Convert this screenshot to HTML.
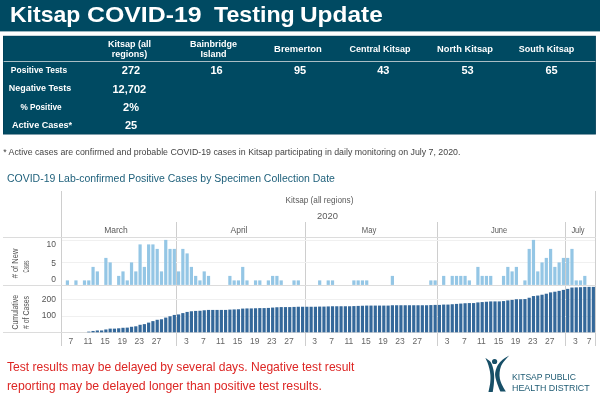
<!DOCTYPE html>
<html><head><meta charset="utf-8"><title>Kitsap COVID-19 Testing Update</title>
<style>
html,body{margin:0;padding:0;background:#fff;}
body{width:600px;height:400px;position:relative;overflow:hidden;font-family:"Liberation Sans",sans-serif;}
.abs{position:absolute;white-space:nowrap;}
.tw{position:absolute;top:0;transform-origin:0 50%;}
#title{left:10.7px;top:1.3px;color:#fff;font-weight:bold;font-size:21.5px;line-height:28px;transform-origin:0 50%;transform:scaleX(1.12);}
.th{color:#fff;font-weight:bold;font-size:9px;line-height:10.3px;text-align:center;transform:translateX(-50%);}
.rl{color:#fff;font-weight:bold;font-size:9px;line-height:12px;text-align:center;transform:translate(-50%,-50%) scaleX(0.94);}
.v{color:#fff;font-weight:bold;font-size:11px;line-height:12px;text-align:center;transform:translate(-50%,-50%);}
#fn{left:3.2px;top:147.2px;font-size:8.8px;line-height:10px;color:#444;transform-origin:0 50%;}
#ct{left:7px;top:171.5px;font-size:10px;line-height:14px;color:#1d5f7a;transform-origin:0 50%;transform:scaleX(1.048);}
.red{left:6.7px;color:#dd2624;font-size:13px;line-height:16px;transform-origin:0 50%;}
.lg{left:511.5px;color:#1d5a72;font-size:9px;line-height:10px;transform-origin:0 50%;}
svg{position:absolute;left:0;top:0;}
svg text{font-family:"Liberation Sans",sans-serif;}
.tk text{font-size:8.5px;fill:#666;}
.mo text{font-size:8.5px;fill:#5a5a5a;}
.ax text{font-size:8.5px;fill:#555;}
</style></head><body>
<svg width="600" height="400" viewBox="0 0 600 400">
<rect x="0" y="0" width="600" height="31.4" fill="#004a62"/>
<rect x="3" y="35.8" width="592.9" height="98.7" fill="#003f58"/>
<rect x="3.6" y="36.4" width="591.6" height="97.4" fill="#004a62"/>
<rect x="3.6" y="61.05" width="591.8" height="0.85" fill="#c8d2d6"/>
</svg>
<div id="title" class="abs" style="transform:none;left:0;width:600px"><span class="tw" style="left:10.4px;transform:scaleX(1.07)">Kitsap</span> <span class="tw" style="left:87.2px;transform:scaleX(1.156)">COVID-19</span> <span class="tw" style="left:213.6px;transform:scaleX(1.079)">Testing</span> <span class="tw" style="left:299.9px;transform:scaleX(1.135)">Update</span></div>

<div class="abs th" style="left:129.5px;top:39px">Kitsap (all<br>regions)</div>
<div class="abs th" style="left:213.5px;top:39px">Bainbridge<br>Island</div>
<div class="abs th" style="left:298px;top:44px;transform:translateX(-50%) scaleX(1.05)">Bremerton</div>
<div class="abs th" style="left:380px;top:44px">Central Kitsap</div>
<div class="abs th" style="left:464.5px;top:44px;transform:translateX(-50%) scaleX(1.035)">North Kitsap</div>
<div class="abs th" style="left:546.5px;top:44px">South Kitsap</div>

<div class="abs rl" style="left:39.4px;top:69.8px">Positive Tests</div>
<div class="abs rl" style="left:39.7px;top:88.2px;transform:translate(-50%,-50%) scaleX(0.994)">Negative Tests</div>
<div class="abs rl" style="left:40.9px;top:106.6px;transform:translate(-50%,-50%) scaleX(0.916)">% Positive</div>
<div class="abs rl" style="left:41.6px;top:125px;transform:translate(-50%,-50%) scaleX(1.009)">Active Cases*</div>

<div class="abs v" style="left:131px;top:69.9px">272</div>
<div class="abs v" style="left:129.3px;top:88.9px">12,702</div>
<div class="abs v" style="left:131px;top:106.8px">2%</div>
<div class="abs v" style="left:131px;top:125.3px">25</div>
<div class="abs v" style="left:216.5px;top:69.9px">16</div>
<div class="abs v" style="left:300px;top:69.9px">95</div>
<div class="abs v" style="left:383.3px;top:69.9px">43</div>
<div class="abs v" style="left:467.5px;top:69.9px">53</div>
<div class="abs v" style="left:551.5px;top:69.9px">65</div>

<div id="fn" class="abs">* Active cases are confirmed and probable COVID-19 cases in Kitsap participating in daily monitoring on July 7, 2020.</div>
<div id="ct" class="abs">COVID-19 Lab-confirmed Positive Cases by Specimen Collection Date</div>

<svg width="600" height="400" viewBox="0 0 600 400">
<g stroke="#cecece" stroke-width="1" shape-rendering="crispEdges">
<line x1="61.5" y1="191" x2="61.5" y2="346"/>
<line x1="595.5" y1="191" x2="595.5" y2="346"/>
<line x1="176.5" y1="221.5" x2="176.5" y2="346"/>
<line x1="305.5" y1="221.5" x2="305.5" y2="346"/>
<line x1="437.5" y1="221.5" x2="437.5" y2="346"/>
<line x1="565.5" y1="221.5" x2="565.5" y2="346"/>
</g>
<g stroke="#dcdcdc" stroke-width="1" shape-rendering="crispEdges">
<line x1="3" y1="237.5" x2="596" y2="237.5"/>
<line x1="3" y1="285.5" x2="596" y2="285.5"/>
<line x1="3" y1="332.5" x2="596" y2="332.5"/>
</g>
<g stroke="#f0f0f0" stroke-width="1" shape-rendering="crispEdges">
<line x1="62" y1="240.5" x2="595" y2="240.5"/>
<line x1="62" y1="262.5" x2="595" y2="262.5"/>
<line x1="62" y1="299.5" x2="595" y2="299.5"/>
<line x1="62" y1="316.5" x2="595" y2="316.5"/>
</g>
<g fill="#94c6e5"><rect x="65.80" y="280.40" width="3.2" height="4.50"/><rect x="74.35" y="280.40" width="3.2" height="4.50"/><rect x="82.90" y="280.40" width="3.2" height="4.50"/><rect x="87.18" y="280.40" width="3.2" height="4.50"/><rect x="91.46" y="266.90" width="3.2" height="18.00"/><rect x="95.73" y="271.40" width="3.2" height="13.50"/><rect x="104.28" y="257.90" width="3.2" height="27.00"/><rect x="108.56" y="262.40" width="3.2" height="22.50"/><rect x="117.11" y="275.90" width="3.2" height="9.00"/><rect x="121.39" y="271.40" width="3.2" height="13.50"/><rect x="125.66" y="280.40" width="3.2" height="4.50"/><rect x="129.94" y="262.40" width="3.2" height="22.50"/><rect x="134.22" y="271.40" width="3.2" height="13.50"/><rect x="138.49" y="244.40" width="3.2" height="40.50"/><rect x="142.77" y="266.90" width="3.2" height="18.00"/><rect x="147.04" y="244.40" width="3.2" height="40.50"/><rect x="151.32" y="244.40" width="3.2" height="40.50"/><rect x="155.60" y="248.90" width="3.2" height="36.00"/><rect x="159.87" y="271.40" width="3.2" height="13.50"/><rect x="164.15" y="239.90" width="3.2" height="45.00"/><rect x="168.42" y="248.90" width="3.2" height="36.00"/><rect x="172.70" y="248.90" width="3.2" height="36.00"/><rect x="176.98" y="271.40" width="3.2" height="13.50"/><rect x="181.25" y="248.90" width="3.2" height="36.00"/><rect x="185.53" y="253.40" width="3.2" height="31.50"/><rect x="189.80" y="266.90" width="3.2" height="18.00"/><rect x="194.08" y="275.90" width="3.2" height="9.00"/><rect x="198.36" y="280.40" width="3.2" height="4.50"/><rect x="202.63" y="271.40" width="3.2" height="13.50"/><rect x="206.91" y="275.90" width="3.2" height="9.00"/><rect x="228.29" y="275.90" width="3.2" height="9.00"/><rect x="232.56" y="280.40" width="3.2" height="4.50"/><rect x="236.84" y="280.40" width="3.2" height="4.50"/><rect x="241.12" y="266.90" width="3.2" height="18.00"/><rect x="245.39" y="280.40" width="3.2" height="4.50"/><rect x="253.94" y="280.40" width="3.2" height="4.50"/><rect x="258.22" y="280.40" width="3.2" height="4.50"/><rect x="266.77" y="280.40" width="3.2" height="4.50"/><rect x="271.05" y="275.90" width="3.2" height="9.00"/><rect x="275.32" y="275.90" width="3.2" height="9.00"/><rect x="279.60" y="280.40" width="3.2" height="4.50"/><rect x="292.43" y="280.40" width="3.2" height="4.50"/><rect x="296.70" y="280.40" width="3.2" height="4.50"/><rect x="318.08" y="280.40" width="3.2" height="4.50"/><rect x="326.64" y="280.40" width="3.2" height="4.50"/><rect x="330.91" y="280.40" width="3.2" height="4.50"/><rect x="352.29" y="280.40" width="3.2" height="4.50"/><rect x="356.57" y="280.40" width="3.2" height="4.50"/><rect x="360.84" y="280.40" width="3.2" height="4.50"/><rect x="365.12" y="280.40" width="3.2" height="4.50"/><rect x="390.78" y="275.90" width="3.2" height="9.00"/><rect x="429.26" y="280.40" width="3.2" height="4.50"/><rect x="433.54" y="280.40" width="3.2" height="4.50"/><rect x="442.09" y="275.90" width="3.2" height="9.00"/><rect x="450.64" y="275.90" width="3.2" height="9.00"/><rect x="454.92" y="275.90" width="3.2" height="9.00"/><rect x="459.19" y="275.90" width="3.2" height="9.00"/><rect x="463.47" y="275.90" width="3.2" height="9.00"/><rect x="467.74" y="280.40" width="3.2" height="4.50"/><rect x="476.30" y="266.90" width="3.2" height="18.00"/><rect x="480.57" y="275.90" width="3.2" height="9.00"/><rect x="484.85" y="275.90" width="3.2" height="9.00"/><rect x="489.12" y="275.90" width="3.2" height="9.00"/><rect x="501.95" y="275.90" width="3.2" height="9.00"/><rect x="506.23" y="266.90" width="3.2" height="18.00"/><rect x="510.50" y="271.40" width="3.2" height="13.50"/><rect x="514.78" y="266.90" width="3.2" height="18.00"/><rect x="523.33" y="280.40" width="3.2" height="4.50"/><rect x="527.61" y="248.90" width="3.2" height="36.00"/><rect x="531.88" y="239.90" width="3.2" height="45.00"/><rect x="536.16" y="271.40" width="3.2" height="13.50"/><rect x="540.44" y="262.40" width="3.2" height="22.50"/><rect x="544.71" y="257.90" width="3.2" height="27.00"/><rect x="548.99" y="248.90" width="3.2" height="36.00"/><rect x="553.26" y="266.90" width="3.2" height="18.00"/><rect x="557.54" y="262.40" width="3.2" height="22.50"/><rect x="561.82" y="257.90" width="3.2" height="27.00"/><rect x="566.09" y="257.90" width="3.2" height="27.00"/><rect x="570.37" y="248.90" width="3.2" height="36.00"/><rect x="574.64" y="280.40" width="3.2" height="4.50"/><rect x="578.92" y="280.40" width="3.2" height="4.50"/><rect x="583.20" y="275.90" width="3.2" height="9.00"/></g>
<g fill="#34689a"><rect x="87.18" y="331.63" width="3.2" height="0.67"/><rect x="91.46" y="330.96" width="3.2" height="1.34"/><rect x="95.73" y="330.46" width="3.2" height="1.84"/><rect x="100.01" y="330.46" width="3.2" height="1.84"/><rect x="104.28" y="329.46" width="3.2" height="2.84"/><rect x="108.56" y="328.63" width="3.2" height="3.67"/><rect x="112.84" y="328.63" width="3.2" height="3.67"/><rect x="117.11" y="328.29" width="3.2" height="4.01"/><rect x="121.39" y="327.79" width="3.2" height="4.51"/><rect x="125.66" y="327.62" width="3.2" height="4.68"/><rect x="129.94" y="326.79" width="3.2" height="5.51"/><rect x="134.22" y="326.29" width="3.2" height="6.01"/><rect x="138.49" y="324.79" width="3.2" height="7.52"/><rect x="142.77" y="324.12" width="3.2" height="8.18"/><rect x="147.04" y="322.61" width="3.2" height="9.69"/><rect x="151.32" y="321.11" width="3.2" height="11.19"/><rect x="155.60" y="319.78" width="3.2" height="12.53"/><rect x="159.87" y="319.27" width="3.2" height="13.03"/><rect x="164.15" y="317.60" width="3.2" height="14.70"/><rect x="168.42" y="316.27" width="3.2" height="16.03"/><rect x="172.70" y="314.93" width="3.2" height="17.37"/><rect x="176.98" y="314.43" width="3.2" height="17.87"/><rect x="181.25" y="313.10" width="3.2" height="19.21"/><rect x="185.53" y="311.93" width="3.2" height="20.37"/><rect x="189.80" y="311.26" width="3.2" height="21.04"/><rect x="194.08" y="310.92" width="3.2" height="21.38"/><rect x="198.36" y="310.76" width="3.2" height="21.54"/><rect x="202.63" y="310.26" width="3.2" height="22.04"/><rect x="206.91" y="309.92" width="3.2" height="22.38"/><rect x="211.18" y="309.92" width="3.2" height="22.38"/><rect x="215.46" y="309.92" width="3.2" height="22.38"/><rect x="219.74" y="309.92" width="3.2" height="22.38"/><rect x="224.01" y="309.92" width="3.2" height="22.38"/><rect x="228.29" y="309.59" width="3.2" height="22.71"/><rect x="232.56" y="309.42" width="3.2" height="22.88"/><rect x="236.84" y="309.25" width="3.2" height="23.05"/><rect x="241.12" y="308.59" width="3.2" height="23.71"/><rect x="245.39" y="308.42" width="3.2" height="23.88"/><rect x="249.67" y="308.42" width="3.2" height="23.88"/><rect x="253.94" y="308.25" width="3.2" height="24.05"/><rect x="258.22" y="308.09" width="3.2" height="24.21"/><rect x="262.50" y="308.09" width="3.2" height="24.21"/><rect x="266.77" y="307.92" width="3.2" height="24.38"/><rect x="271.05" y="307.58" width="3.2" height="24.72"/><rect x="275.32" y="307.25" width="3.2" height="25.05"/><rect x="279.60" y="307.08" width="3.2" height="25.22"/><rect x="283.88" y="307.08" width="3.2" height="25.22"/><rect x="288.15" y="307.08" width="3.2" height="25.22"/><rect x="292.43" y="306.92" width="3.2" height="25.38"/><rect x="296.70" y="306.75" width="3.2" height="25.55"/><rect x="300.98" y="306.75" width="3.2" height="25.55"/><rect x="305.26" y="306.75" width="3.2" height="25.55"/><rect x="309.53" y="306.75" width="3.2" height="25.55"/><rect x="313.81" y="306.75" width="3.2" height="25.55"/><rect x="318.08" y="306.58" width="3.2" height="25.72"/><rect x="322.36" y="306.58" width="3.2" height="25.72"/><rect x="326.64" y="306.42" width="3.2" height="25.89"/><rect x="330.91" y="306.25" width="3.2" height="26.05"/><rect x="335.19" y="306.25" width="3.2" height="26.05"/><rect x="339.46" y="306.25" width="3.2" height="26.05"/><rect x="343.74" y="306.25" width="3.2" height="26.05"/><rect x="348.02" y="306.25" width="3.2" height="26.05"/><rect x="352.29" y="306.08" width="3.2" height="26.22"/><rect x="356.57" y="305.91" width="3.2" height="26.39"/><rect x="360.84" y="305.75" width="3.2" height="26.55"/><rect x="365.12" y="305.58" width="3.2" height="26.72"/><rect x="369.40" y="305.58" width="3.2" height="26.72"/><rect x="373.67" y="305.58" width="3.2" height="26.72"/><rect x="377.95" y="305.58" width="3.2" height="26.72"/><rect x="382.22" y="305.58" width="3.2" height="26.72"/><rect x="386.50" y="305.58" width="3.2" height="26.72"/><rect x="390.78" y="305.25" width="3.2" height="27.05"/><rect x="395.05" y="305.25" width="3.2" height="27.05"/><rect x="399.33" y="305.25" width="3.2" height="27.05"/><rect x="403.60" y="305.25" width="3.2" height="27.05"/><rect x="407.88" y="305.25" width="3.2" height="27.05"/><rect x="412.16" y="305.25" width="3.2" height="27.05"/><rect x="416.43" y="305.25" width="3.2" height="27.05"/><rect x="420.71" y="305.25" width="3.2" height="27.05"/><rect x="424.98" y="305.25" width="3.2" height="27.05"/><rect x="429.26" y="305.08" width="3.2" height="27.22"/><rect x="433.54" y="304.91" width="3.2" height="27.39"/><rect x="437.81" y="304.91" width="3.2" height="27.39"/><rect x="442.09" y="304.58" width="3.2" height="27.72"/><rect x="446.36" y="304.58" width="3.2" height="27.72"/><rect x="450.64" y="304.24" width="3.2" height="28.06"/><rect x="454.92" y="303.91" width="3.2" height="28.39"/><rect x="459.19" y="303.58" width="3.2" height="28.72"/><rect x="463.47" y="303.24" width="3.2" height="29.06"/><rect x="467.74" y="303.07" width="3.2" height="29.23"/><rect x="472.02" y="303.07" width="3.2" height="29.23"/><rect x="476.30" y="302.41" width="3.2" height="29.89"/><rect x="480.57" y="302.07" width="3.2" height="30.23"/><rect x="484.85" y="301.74" width="3.2" height="30.56"/><rect x="489.12" y="301.41" width="3.2" height="30.90"/><rect x="493.40" y="301.41" width="3.2" height="30.90"/><rect x="497.68" y="301.41" width="3.2" height="30.90"/><rect x="501.95" y="301.07" width="3.2" height="31.23"/><rect x="506.23" y="300.40" width="3.2" height="31.90"/><rect x="510.50" y="299.90" width="3.2" height="32.40"/><rect x="514.78" y="299.23" width="3.2" height="33.07"/><rect x="519.06" y="299.23" width="3.2" height="33.07"/><rect x="523.33" y="299.07" width="3.2" height="33.23"/><rect x="527.61" y="297.73" width="3.2" height="34.57"/><rect x="531.88" y="296.06" width="3.2" height="36.24"/><rect x="536.16" y="295.56" width="3.2" height="36.74"/><rect x="540.44" y="294.73" width="3.2" height="37.58"/><rect x="544.71" y="293.72" width="3.2" height="38.58"/><rect x="548.99" y="292.39" width="3.2" height="39.91"/><rect x="553.26" y="291.72" width="3.2" height="40.58"/><rect x="557.54" y="290.88" width="3.2" height="41.42"/><rect x="561.82" y="289.88" width="3.2" height="42.42"/><rect x="566.09" y="288.88" width="3.2" height="43.42"/><rect x="570.37" y="287.54" width="3.2" height="44.76"/><rect x="574.64" y="287.38" width="3.2" height="44.92"/><rect x="578.92" y="287.21" width="3.2" height="45.09"/><rect x="583.20" y="286.88" width="3.2" height="45.42"/><rect x="587.47" y="286.88" width="3.2" height="45.42"/><rect x="591.75" y="286.88" width="3.2" height="45.42"/></g>

<g class="tk" text-anchor="middle"><text x="70.9" y="344">7</text><text x="88.0" y="344">11</text><text x="105.1" y="344">15</text><text x="122.2" y="344">19</text><text x="139.3" y="344">23</text><text x="156.4" y="344">27</text><text x="186.3" y="344">3</text><text x="203.4" y="344">7</text><text x="220.5" y="344">11</text><text x="237.6" y="344">15</text><text x="254.7" y="344">19</text><text x="271.8" y="344">23</text><text x="289.0" y="344">27</text><text x="314.6" y="344">3</text><text x="331.7" y="344">7</text><text x="348.8" y="344">11</text><text x="365.9" y="344">15</text><text x="383.0" y="344">19</text><text x="400.1" y="344">23</text><text x="417.2" y="344">27</text><text x="447.2" y="344">3</text><text x="464.3" y="344">7</text><text x="481.4" y="344">11</text><text x="498.5" y="344">15</text><text x="515.6" y="344">19</text><text x="532.7" y="344">23</text><text x="549.8" y="344">27</text><text x="575.4" y="344">3</text><text x="589.0" y="344">7</text></g>
<g class="mo" text-anchor="middle">
<text x="319.5" y="203" style="font-size:8.2px">Kitsap (all regions)</text>
<text x="327.5" y="218.5" style="font-size:9.4px">2020</text>
<text x="116" y="233">March</text>
<text x="239" y="233">April</text>
<text x="369" y="233" textLength="14.5" lengthAdjust="spacingAndGlyphs">May</text>
<text x="499" y="233" textLength="16.2" lengthAdjust="spacingAndGlyphs">June</text>
<text x="578" y="233" textLength="13.2" lengthAdjust="spacingAndGlyphs">July</text>
</g>
<g class="ax" text-anchor="end">
<text x="56" y="247">10</text>
<text x="56" y="265.5">5</text>
<text x="56" y="282">0</text>
<text x="56" y="302.2">200</text>
<text x="56" y="318.4">100</text>
</g>
<g class="ax" text-anchor="middle">
<text transform="translate(18,263.5) rotate(-90)" textLength="29.7" lengthAdjust="spacingAndGlyphs">#&#160;of New</text>
<text transform="translate(28.5,266.5) rotate(-90)" textLength="11.8" lengthAdjust="spacingAndGlyphs">Cases</text>
<text transform="translate(17.5,312.2) rotate(-90)" textLength="34.7" lengthAdjust="spacingAndGlyphs">Cumulative</text>
<text transform="translate(29.2,312.5) rotate(-90)" textLength="33" lengthAdjust="spacingAndGlyphs"># of Cases</text>
</g>
<!-- logo -->
<g fill="#174f67">
<circle cx="494.6" cy="361.5" r="2.6"/>
<path d="M485.38,357.88 C485.73,358.65 486.83,360.69 487.50,362.50 C488.17,364.31 488.90,366.67 489.38,368.75 C489.85,370.83 490.23,372.71 490.38,375.00 C490.52,377.29 490.56,379.67 490.25,382.50 C489.94,385.33 488.79,390.42 488.50,392.00 L492.75,392.00 C492.94,390.62 493.65,386.58 493.88,383.75 C494.10,380.92 494.29,377.71 494.12,375.00 C493.96,372.29 493.52,369.73 492.88,367.50 C492.23,365.27 491.50,363.23 490.25,361.62 C489.00,360.02 486.19,358.50 485.38,357.88 Z"/>
<path d="M509.25,355.38 C508.12,356.10 504.40,358.15 502.50,359.75 C500.60,361.35 499.04,363.08 497.88,365.00 C496.71,366.92 495.94,369.38 495.50,371.25 C495.06,373.12 494.96,374.17 495.25,376.25 C495.54,378.33 496.40,381.19 497.25,383.75 C498.10,386.31 499.85,390.31 500.38,391.62 L505.88,391.62 C505.29,390.62 503.38,387.77 502.38,385.62 C501.38,383.48 500.33,380.94 499.88,378.75 C499.42,376.56 499.44,374.58 499.62,372.50 C499.81,370.42 500.25,368.12 501.00,366.25 C501.75,364.38 502.75,363.06 504.12,361.25 C505.50,359.44 508.40,356.35 509.25,355.38 Z"/>
</g>
</svg>

<div class="abs red" style="top:358.9px;transform:scaleX(0.930)">Test results may be delayed by several days. Negative test result</div>
<div class="abs red" style="top:377.6px;transform:scaleX(0.945)">reporting may be delayed longer than positive test results.</div>
<div class="abs lg" style="top:371.5px;transform:scaleX(0.956)">KITSAP PUBLIC</div>
<div class="abs lg" style="top:383px;transform:scaleX(0.985)">HEALTH DISTRICT</div>
</body></html>
